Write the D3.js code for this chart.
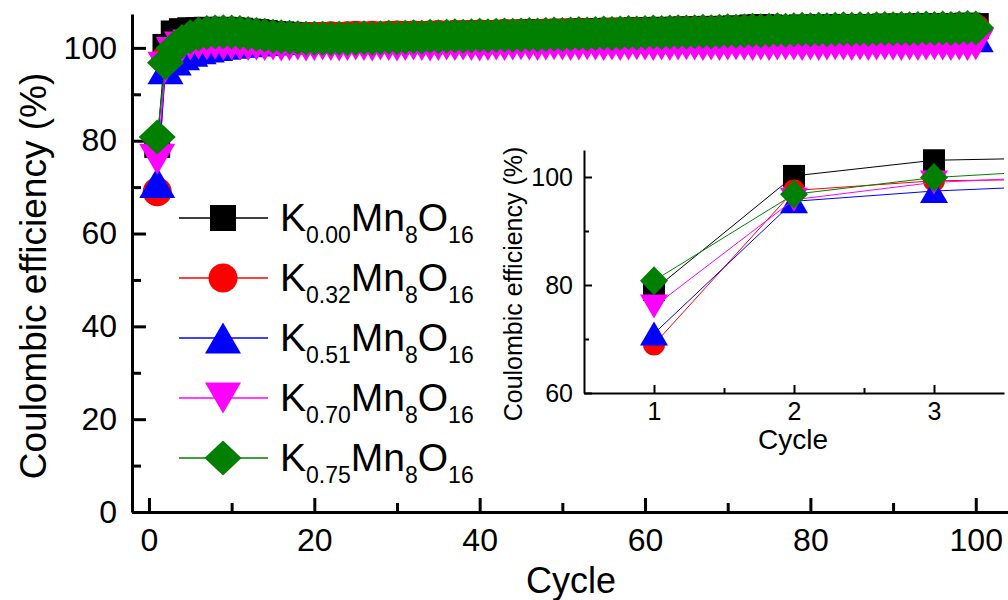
<!DOCTYPE html>
<html>
<head>
<meta charset="utf-8">
<script src="https://cdn.jsdelivr.net/npm/d3@7/dist/d3.min.js"></script>
<style>
  body { margin: 0; background: #fff; }
  text { font-family: "Liberation Sans", Arial, sans-serif; fill: #000; }
</style>
</head>
<body>
<script>
/*
 * Data
 */
const seriesNames = ['0.00', '0.32', '0.51', '0.70', '0.75'];
const seriesColors = ['#000000', '#ff0000', '#0000ff', '#ff00ff', '#007f00'];
const seriesShapes = ['square', 'circle', 'triUp', 'triDown', 'diamond'];

const k000 = [
  79.1, 100.2, 103.1, 103.6, 103.8, 103.8, 103.9, 103.8, 103.9, 103.8,
  103.7, 103.5, 103.4, 103.2, 103.0, 102.9, 102.8, 102.7, 102.6, 102.6,
  102.5, 102.5, 102.6, 102.5, 102.6, 102.6, 102.7, 102.6, 102.7, 102.8,
  102.8, 102.9, 102.8, 102.9, 103.0, 102.9, 103.0, 103.1, 103.0, 103.1,
  103.2, 103.1, 103.2, 103.3, 103.2, 103.3, 103.4, 103.3, 103.4, 103.5,
  103.4, 103.5, 103.6, 103.5, 103.6, 103.7, 103.6, 103.7, 103.8, 103.7,
  103.8, 103.9, 103.8, 103.9, 104.0, 103.9, 104.0, 104.1, 104.0, 104.1,
  104.2, 104.1, 104.4, 104.5, 104.4, 104.3, 104.2, 104.3, 104.4, 104.3,
  104.4, 104.3, 104.4, 104.5, 104.4, 104.5, 104.4, 104.5, 104.6, 104.5,
  104.6, 104.5, 104.6, 104.7, 104.6, 104.7, 104.6, 104.7, 104.8, 104.7
];
const k032 = [
  69.0, 97.5, 99.3, 99.6, 100.3, 100.8, 101.2, 101.5, 101.7, 101.8,
  101.9, 102.0, 102.1, 102.2, 102.2, 102.3, 102.3, 102.4, 102.4, 102.5,
  102.5, 102.6, 102.5, 102.6, 102.7, 102.6, 102.7, 102.6, 102.7, 102.8,
  102.7, 102.8, 102.7, 102.8, 102.9, 102.8, 102.9, 102.8, 102.9, 103.0,
  102.9, 103.0, 103.1, 103.0, 103.1, 103.0, 103.1, 103.2, 103.1, 103.2,
  103.3, 103.2, 103.3, 103.2, 103.3, 103.4, 103.3, 103.4, 103.5, 103.4,
  103.5, 103.4, 103.5, 103.6, 103.5, 103.6, 103.7, 103.6, 103.7, 103.6,
  103.7, 103.8, 103.7, 103.8, 103.7, 103.8, 103.9, 103.8, 103.9, 103.8,
  103.9, 103.8, 103.9, 104.0, 103.9, 104.0, 103.9, 104.0, 104.1, 104.0,
  104.1, 104.0, 104.1, 104.0, 104.1, 104.2, 104.1, 104.2, 104.1, 104.2
];
const k051 = [
  71.0, 95.5, 97.4, 98.5, 99.3, 99.8, 100.2, 100.5, 100.8, 101.0,
  101.2, 101.3, 101.5, 101.6, 101.7, 101.8, 101.9, 102.0, 102.0, 102.1,
  102.2, 102.1, 102.2, 102.3, 102.2, 102.3, 102.4, 102.3, 102.4, 102.3,
  102.4, 102.3, 102.4, 102.5, 102.4, 102.5, 102.4, 102.5, 102.4, 102.5,
  102.6, 102.5, 102.6, 102.5, 102.6, 102.5, 102.6, 102.7, 102.6, 102.7,
  102.6, 102.7, 102.6, 102.7, 102.6, 102.7, 102.8, 102.7, 102.8, 102.7,
  102.8, 102.7, 102.8, 102.7, 102.8, 102.9, 102.8, 102.9, 102.8, 102.9,
  102.8, 102.9, 102.8, 102.9, 103.0, 102.9, 103.0, 102.9, 103.0, 102.9,
  103.0, 102.9, 103.0, 102.9, 103.0, 102.9, 103.0, 102.9, 102.8, 102.9,
  102.8, 102.7, 102.8, 102.7, 102.6, 102.7, 102.6, 102.5, 102.6, 102.4
];
const k070 = [
  76.0, 95.8, 99.0, 100.2, 100.6, 100.8, 100.7, 100.8, 100.6, 100.7,
  100.6, 100.5, 100.6, 100.5, 100.6, 100.4, 100.5, 100.6, 100.4, 100.5,
  100.6, 100.5, 100.4, 100.5, 100.6, 100.5, 100.4, 100.6, 100.5, 100.4,
  100.5, 100.6, 100.5, 100.4, 100.5, 100.6, 100.5, 100.6, 100.5, 100.4,
  100.5, 100.6, 100.5, 100.6, 100.7, 100.6, 100.5, 100.6, 100.7, 100.6,
  100.5, 100.6, 100.7, 100.6, 100.5, 100.6, 100.5, 100.6, 100.7, 100.6,
  100.5, 100.6, 100.5, 100.6, 100.7, 100.6, 100.5, 100.6, 100.5, 100.6,
  100.7, 100.6, 100.5, 100.6, 100.5, 100.6, 100.7, 100.6, 100.5, 100.6,
  100.5, 100.6, 100.7, 100.6, 100.5, 100.6, 100.5, 100.6, 100.7, 100.6,
  100.5, 100.6, 100.5, 100.6, 100.7, 100.6, 100.5, 100.6, 100.5, 100.7
];
const k075 = [
  80.8, 96.8, 99.9, 101.4, 102.4, 103.0, 103.3, 103.4, 103.5, 103.4,
  103.3, 103.1, 102.9, 102.7, 102.5, 102.4, 102.3, 102.2, 102.1, 102.1,
  102.1, 102.0, 102.1, 102.0, 102.1, 102.2, 102.1, 102.2, 102.3, 102.2,
  102.3, 102.4, 102.3, 102.5, 102.4, 102.5, 102.6, 102.5, 102.6, 102.7,
  102.6, 102.7, 102.8, 102.7, 102.8, 102.9, 102.8, 102.9, 103.0, 102.9,
  103.0, 103.1, 103.0, 103.1, 103.2, 103.1, 103.2, 103.3, 103.2, 103.3,
  103.4, 103.3, 103.4, 103.5, 103.4, 103.5, 103.6, 103.5, 103.6, 103.7,
  103.6, 103.7, 103.8, 103.7, 103.8, 103.9, 103.8, 103.9, 104.0, 103.9,
  104.0, 103.9, 104.0, 104.1, 104.0, 104.1, 104.0, 104.1, 104.2, 104.1,
  104.2, 104.1, 104.2, 104.3, 104.2, 104.3, 104.2, 104.3, 104.4, 104.3
];
const seriesValues = [k000, k032, k051, k070, k075];
const cycles = k000.map((d, i) => i + 1);

const mainXTicks = [0, 20, 40, 60, 80, 100];
const mainXMinor = [10, 30, 50, 70, 90];
const mainYTicks = [0, 20, 40, 60, 80, 100];
const mainYMinor = [10, 30, 50, 70, 90];
const insetXTicks = [1, 2, 3];
const insetXMinor = [1.5, 2.5];
const insetYTicks = [60, 80, 100];
const insetYMinor = [70, 90];
const insetCycles = 4;

/*
 * Marker shapes
 */
function shapePath(shape, s) {
  const p = d3.path();
  if (shape === 'square') {
    p.rect(-s.sq / 2, -s.sq / 2, s.sq, s.sq);
  } else if (shape === 'circle') {
    p.arc(0, 0, s.r, 0, 2 * Math.PI);
  } else if (shape === 'triUp') {
    p.moveTo(0, -s.th / 2); p.lineTo(s.tw / 2, s.th / 2); p.lineTo(-s.tw / 2, s.th / 2); p.closePath();
  } else if (shape === 'triDown') {
    p.moveTo(0, s.th / 2); p.lineTo(s.tw / 2, -s.th / 2); p.lineTo(-s.tw / 2, -s.th / 2); p.closePath();
  } else {
    p.moveTo(0, -s.dh / 2); p.lineTo(s.dw / 2, 0); p.lineTo(0, s.dh / 2); p.lineTo(-s.dw / 2, 0); p.closePath();
  }
  return p.toString();
}
const bigSize = { sq: 26, r: 14.5, tw: 36, th: 31, dw: 37, dh: 35 };
const smallSize = { sq: 22, r: 11, tw: 28, th: 24, dw: 28, dh: 29 };

const svgWidth = 1008, svgHeight = 600;
const svg = d3.select('body').append('svg')
  .attr('width', svgWidth)
  .attr('height', svgHeight);

/*
 * Main plot
 */
const xScale = d3.scaleLinear().domain([-2.05, 103.9]).range([132, 1008]);
const yScale = d3.scaleLinear().domain([0, 107.3]).range([512, 14]);

function styleAxis(g, width) {
  g.select('.domain').attr('stroke-width', width);
  g.selectAll('.tick line').attr('stroke-width', width);
}

const gx = svg.append('g').attr('transform', 'translate(0,512)')
  .call(d3.axisBottom(xScale).tickValues(mainXTicks).tickSize(-14).tickSizeOuter(0).tickPadding(16));
styleAxis(gx, 3);
gx.selectAll('text').attr('font-size', 32);
const gxm = svg.append('g').attr('transform', 'translate(0,512)')
  .call(d3.axisBottom(xScale).tickValues(mainXMinor).tickSize(-9).tickFormat(''));
styleAxis(gxm, 3);
gxm.select('.domain').remove();

const gy = svg.append('g').attr('transform', 'translate(132,0)')
  .call(d3.axisLeft(yScale).tickValues(mainYTicks).tickSize(-14).tickSizeOuter(0).tickPadding(15));
styleAxis(gy, 3);
gy.selectAll('text').attr('font-size', 32);
const gym = svg.append('g').attr('transform', 'translate(132,0)')
  .call(d3.axisLeft(yScale).tickValues(mainYMinor).tickSize(-9).tickFormat(''));
styleAxis(gym, 3);
gym.select('.domain').remove();

svg.append('text')
  .attr('transform', 'translate(46,276) rotate(-90)')
  .attr('text-anchor', 'middle')
  .attr('font-size', 37)
  .text('Coulombic efficiency (%)');
svg.append('text')
  .attr('x', 571).attr('y', 593)
  .attr('text-anchor', 'middle')
  .attr('font-size', 36)
  .text('Cycle');

const mainData = svg.append('g').attr('id', 'main-data');
seriesValues.forEach((vals, si) => {
  const pts = vals.map((v, i) => ({ x: cycles[i], y: v }));
  mainData.append('path')
    .attr('d', d3.line().x(d => xScale(d.x)).y(d => yScale(d.y))(pts))
    .attr('fill', 'none')
    .attr('stroke', seriesColors[si])
    .attr('stroke-width', 1.2);
  mainData.selectAll(null).data(pts).enter().append('path')
    .attr('transform', d => `translate(${xScale(d.x)},${yScale(d.y)})`)
    .attr('d', shapePath(seriesShapes[si], bigSize))
    .attr('fill', seriesColors[si]);
});

/*
 * Legend
 */
const legend = svg.append('g').attr('id', 'legend');
seriesNames.forEach((name, i) => {
  const yRow = 218 + i * 60;
  legend.append('line')
    .attr('x1', 179).attr('x2', 268).attr('y1', yRow).attr('y2', yRow)
    .attr('stroke', seriesColors[i]).attr('stroke-width', 1.5);
  legend.append('path')
    .attr('transform', `translate(223,${yRow})`)
    .attr('d', shapePath(seriesShapes[i], bigSize))
    .attr('fill', seriesColors[i]);
  const t = legend.append('text').attr('x', 280).attr('y', yRow + 13).attr('font-size', 39);
  t.append('tspan').text('K');
  t.append('tspan').attr('font-size', 23).attr('dy', 12).text(name);
  t.append('tspan').attr('dy', -12).text('Mn');
  t.append('tspan').attr('font-size', 23).attr('dy', 12).text('8');
  t.append('tspan').attr('dy', -12).text('O');
  t.append('tspan').attr('font-size', 23).attr('dy', 12).text('16');
});

/*
 * Inset
 */
const ix = d3.scaleLinear().domain([0.5, 3.5]).range([584, 1004]);
const iy = d3.scaleLinear().domain([60, 105]).range([393, 150]);

svg.append('clipPath').attr('id', 'inset-clip')
  .append('rect').attr('x', 584).attr('y', 140).attr('width', 420).attr('height', 253);

const insetData = svg.append('g').attr('id', 'inset-data');
seriesValues.forEach((vals, si) => {
  const pts = vals.slice(0, insetCycles).map((v, i) => ({ x: cycles[i], y: v }));
  insetData.append('path')
    .attr('clip-path', 'url(#inset-clip)')
    .attr('d', d3.line().x(d => ix(d.x)).y(d => iy(d.y))(pts))
    .attr('fill', 'none')
    .attr('stroke', seriesColors[si])
    .attr('stroke-width', 1);
  insetData.selectAll(null).data(pts.filter(d => d.x <= 3)).enter().append('path')
    .attr('transform', d => `translate(${ix(d.x)},${iy(d.y)})`)
    .attr('d', shapePath(seriesShapes[si], smallSize))
    .attr('fill', seriesColors[si]);
});

const igx = svg.append('g').attr('transform', 'translate(0,393)')
  .call(d3.axisBottom(ix).tickValues(insetXTicks).tickFormat(d3.format('d'))
    .tickSize(-8).tickSizeOuter(0).tickPadding(9));
styleAxis(igx, 2);
igx.selectAll('text').attr('font-size', 25);
const igxm = svg.append('g').attr('transform', 'translate(0,393)')
  .call(d3.axisBottom(ix).tickValues(insetXMinor).tickSize(-5).tickFormat(''));
styleAxis(igxm, 2);
igxm.select('.domain').remove();

const igy = svg.append('g').attr('transform', 'translate(584,0)')
  .call(d3.axisLeft(iy).tickValues(insetYTicks).tickSize(-8).tickSizeOuter(0).tickPadding(11));
styleAxis(igy, 2);
igy.selectAll('text').attr('font-size', 25);
const igym = svg.append('g').attr('transform', 'translate(584,0)')
  .call(d3.axisLeft(iy).tickValues(insetYMinor).tickSize(-5).tickFormat(''));
styleAxis(igym, 2);
igym.select('.domain').remove();

svg.append('text')
  .attr('transform', 'translate(522,284) rotate(-90)')
  .attr('text-anchor', 'middle')
  .attr('font-size', 25)
  .text('Coulombic efficiency (%)');
svg.append('text')
  .attr('x', 793).attr('y', 449)
  .attr('text-anchor', 'middle')
  .attr('font-size', 28)
  .text('Cycle');
</script>
</body>
</html>
